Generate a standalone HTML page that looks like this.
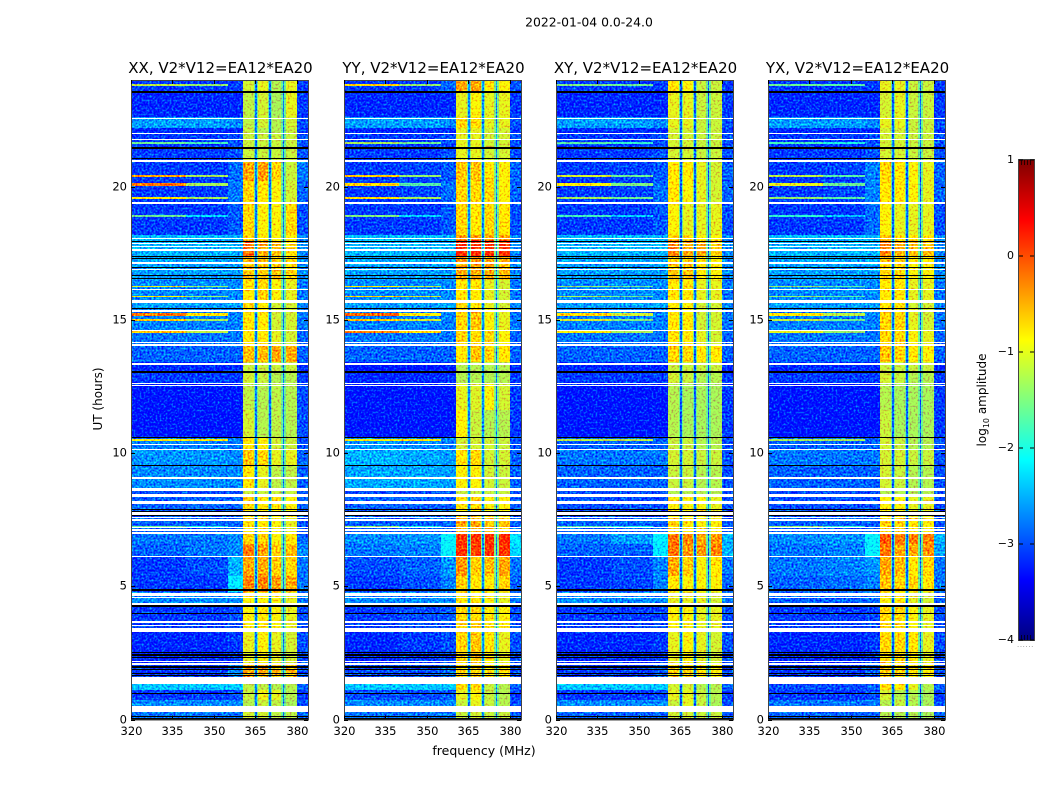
<!DOCTYPE html>
<html lang="en">
<head>
<meta charset="utf-8">
<title>2022-01-04 0.0-24.0</title>
<style>
html,body{margin:0;padding:0;background:#fff;width:1050px;height:800px;overflow:hidden}
svg{display:block;font-family:"DejaVu Sans","Liberation Sans",sans-serif}
</style>
</head>
<body>
<svg id="figure" xmlns="http://www.w3.org/2000/svg" width="1050" height="800" viewBox="0 0 1050 800">
  <defs>
    <!-- Decorative texture only: imitates pixel speckle; it is not data. -->
    <filter id="speckle" x="0" y="0" width="1" height="1" color-interpolation-filters="sRGB">
      <feTurbulence type="fractalNoise" baseFrequency="0.5" numOctaves="2" seed="4" result="noise"/>
      <feColorMatrix in="noise" type="matrix" values="0 0 0 0 0.5  0 1 0 0 0  0 0 0 0 0.5  0 0 0 0 1" result="greenNoise"/>
      <feComposite in="SourceGraphic" in2="greenNoise" operator="arithmetic" k1="0" k2="1" k3="1.6" k4="-0.8"/>
    </filter>
  </defs>
  <text x="589" y="26.5" font-size="12.4" text-anchor="middle" fill="#000">2022-01-04 0.0-24.0</text>
  <text transform="translate(102,399) rotate(-90)" font-size="12" text-anchor="middle" fill="#000">UT (hours)</text>
  <text x="484" y="755" font-size="12.5" text-anchor="middle" fill="#000">frequency (MHz)</text>
  <g id="panels"></g>
  <g id="colorbar"></g>
  <text transform="translate(986,400) rotate(-90)" font-size="12" text-anchor="middle" fill="#000">log<tspan font-size="8" dy="3">10</tspan><tspan dy="-3"> amplitude</tspan></text>
  <text x="1017" y="647" font-size="7" fill="#888" letter-spacing="0.6">......</text>
</svg>
<script>
// ---- chart data (hours, MHz, log10 amplitude) ----
const panelTitles = ["XX, V2*V12=EA12*EA20", "YY, V2*V12=EA12*EA20", "XY, V2*V12=EA12*EA20", "YX, V2*V12=EA12*EA20"];
const freqTicks = [320, 335, 350, 365, 380];
const timeTicks = [0, 5, 10, 15, 20];
const colorTicks = [1, 0, -1, -2, -3, -4];
const colorTickLabels = ["1", "0", "\u22121", "\u22122", "\u22123", "\u22124"];
// columns of the level tables: low, mid, edge, band1, band2, band3, band4, high
const columnEdges = [[320,340],[340,355],[355,360.5],[360.5,364.4],[366,369.4],[371,374.4],[376,380],[380,384]];
const notchHaloEdges = [[364.4,366],[369.4,371],[374.4,376]];
const notchCoreEdges = [[364.9,365.5],[369.9,370.5],[374.9,375.5]];
const notchHaloLevels = [-1.6, -1.5, -1.6, -1.6];
const notchCoreLevels = [-2.8, -2.7, -2.9, -2.9];
const segmentStarts = [0,0.49,0.75,1.1,1.58,2.06,3.3,4.3,4.8,5.4,6.1,6.6,7,7.6,8.36,8.68,9.5,10.1,10.6,11.6,12.6,13.07,13.4,14.1,14.6,15.4,15.7,16.5,17.1,17.4,18,18.2,19.4,20.2,21,22,22.2,22.6,23.6];
const segmentEnd = 24;
const levelsXX = [
[-2.8,-2.8,-2.8,-1.1,-1.1,-1.2,-1.2,-2.9],[-2.7,-2.7,-2.7,-1.25,-1.15,-1.2,-1.3,-3.0],[-3.1,-3.1,-3.0,-1.15,-0.95,-1.0,-1.25,-3.1],[-2.4,-2.4,-2.4,-1.2,-1.2,-1.25,-1.25,-2.9],
[-3.1,-3.1,-2.7,-0.45,-0.45,-0.55,-0.55,-3.0],[-3.2,-3.2,-3.1,-1.0,-0.9,-1.0,-1.1,-3.0],[-3.1,-3.1,-3.0,-0.9,-0.8,-0.9,-1.0,-3.0],[-2.7,-2.7,-2.7,-0.9,-0.9,-0.9,-1.0,-2.8],
[-3.1,-3.1,-2.2,-0.25,-0.25,-0.4,-0.45,-2.8],[-3.1,-3.0,-2.5,-0.45,-0.45,-0.65,-0.7,-2.8],[-2.9,-2.8,-2.7,-0.25,-0.4,-0.65,-0.55,-2.7],[-2.8,-2.8,-2.7,-0.7,-0.7,-0.9,-0.8,-2.9],
[-2.9,-2.9,-2.9,-0.8,-0.8,-0.9,-1.0,-3.0],[-2.9,-2.9,-2.9,-0.7,-0.8,-0.8,-0.9,-2.9],[-3.0,-3.0,-3.0,-1.15,-1.15,-1.15,-1.15,-3.0],[-2.7,-2.7,-2.7,-0.8,-1.0,-1.2,-1.2,-2.9],
[-2.65,-2.65,-2.7,-0.6,-0.7,-1.0,-1.0,-2.9],[-2.75,-2.75,-2.8,-0.8,-0.9,-1.1,-1.15,-3.0],[-3.3,-3.3,-3.3,-1.1,-1.25,-1.2,-1.25,-3.0],[-3.3,-3.3,-3.3,-1.2,-1.25,-1.2,-1.25,-3.0],
[-3.1,-3.1,-3.1,-1.1,-1.15,-1.25,-1.25,-3.1],[-3.2,-3.2,-3.2,-1.15,-1.15,-1.15,-1.15,-3.2],[-2.9,-2.9,-2.9,-0.55,-0.55,-0.45,-0.45,-2.9],[-2.8,-2.8,-2.8,-0.8,-0.8,-1.0,-1.1,-2.9],
[-2.75,-2.75,-2.75,-0.8,-0.8,-1.1,-1.1,-2.8],[-2.6,-2.6,-2.6,-0.7,-0.8,-1.1,-1.1,-2.7],[-2.7,-2.7,-2.7,-0.8,-0.7,-0.9,-1.0,-2.8],[-2.6,-2.6,-2.6,-0.6,-0.6,-0.6,-0.7,-2.7],
[-2.55,-2.55,-2.55,-0.5,-0.6,-0.7,-0.7,-2.7],[-2.5,-2.5,-2.5,-0.15,-0.45,-0.55,-0.8,-2.7],[-2.45,-2.45,-2.5,-0.7,-0.8,-0.9,-0.9,-2.7],[-3.1,-3.1,-2.95,-0.7,-0.9,-0.9,-0.7,-3.0],
[-3.1,-3.1,-2.8,-0.7,-0.8,-0.9,-1.1,-2.9],[-3.1,-3.1,-2.85,-0.45,-0.4,-0.7,-1.15,-2.8],[-3.1,-3.1,-3.0,-1.15,-1.15,-1.15,-1.15,-3.0],[-3.2,-3.2,-3.2,-1.15,-1.25,-1.25,-1.15,-3.1],
[-2.6,-2.6,-2.7,-1.2,-1.1,-1.25,-1.1,-3.0],[-3.2,-3.2,-3.2,-1.2,-1.1,-1.3,-1.0,-3.1],[-3.1,-3.1,-3.1,-1.1,-1.0,-1.25,-1.0,-3.1]];
const levelsYY = [
[-2.8,-2.8,-2.8,-1.15,-1.1,-1.15,-1.15,-2.9],[-2.7,-2.7,-2.7,-1.15,-1.0,-1.15,-1.25,-3.0],[-3.0,-3.0,-2.95,-1.0,-0.9,-1.15,-1.25,-3.1],[-2.4,-2.4,-2.4,-0.7,-0.7,-1.15,-1.25,-2.9],
[-3.0,-3.0,-2.8,-0.7,-0.7,-0.8,-0.8,-3.0],[-3.2,-3.1,-3.0,-0.7,-0.6,-0.8,-1.0,-3.0],[-3.1,-3.0,-2.95,-0.7,-0.7,-0.8,-0.9,-3.0],[-2.7,-2.7,-2.7,-0.8,-0.8,-0.9,-1.0,-2.8],
[-3.1,-3.0,-2.75,-0.65,-0.8,-0.8,-0.7,-2.9],[-3.0,-2.9,-2.65,-0.35,-0.65,-0.55,-0.45,-2.8],[-2.8,-2.75,-2.1,0.15,0.05,0.15,0.15,-2.3],[-2.7,-2.65,-2.1,0.15,0.15,0.2,0.2,-2.2],
[-2.9,-2.9,-2.9,-0.45,-0.45,-0.6,-0.6,-2.9],[-2.9,-2.9,-2.9,-0.8,-0.7,-0.9,-0.9,-2.9],[-3.0,-3.0,-3.0,-1.15,-1.15,-1.15,-1.15,-3.0],[-2.55,-2.55,-2.6,-0.9,-0.9,-1.1,-1.15,-2.9],
[-2.5,-2.55,-2.6,-0.8,-0.7,-1.1,-1.1,-2.9],[-2.65,-2.7,-2.75,-1.1,-1.1,-1.1,-1.15,-3.0],[-3.3,-3.3,-3.3,-0.9,-1.15,-1.25,-1.25,-3.1],[-3.3,-3.3,-3.3,-1.0,-1.05,-0.9,-1.1,-3.1],
[-3.2,-3.2,-3.15,-1.25,-1.25,-1.25,-1.25,-3.1],[-3.3,-3.3,-3.25,-1.25,-1.25,-1.25,-1.25,-3.2],[-2.9,-2.9,-2.9,-0.8,-0.6,-0.7,-0.8,-2.9],[-2.8,-2.8,-2.8,-0.7,-0.7,-0.7,-0.9,-2.9],
[-2.75,-2.75,-2.75,-0.7,-0.6,-0.9,-1.0,-2.8],[-2.6,-2.6,-2.6,-0.7,-0.8,-1.0,-1.1,-2.7],[-2.7,-2.7,-2.7,-0.8,-0.8,-1.0,-1.1,-2.8],[-2.6,-2.6,-2.6,-0.45,-0.45,-0.45,-0.55,-2.7],
[-2.55,-2.55,-2.55,-0.35,-0.35,-0.45,-0.45,-2.7],[-2.5,-2.5,-2.5,0.2,0.2,0.15,0.15,-2.7],[-2.45,-2.45,-2.5,-0.35,-0.35,-0.45,-0.45,-2.7],[-3.1,-3.1,-2.95,-0.7,-0.8,-0.7,-0.8,-3.0],
[-3.1,-3.05,-2.85,-0.7,-0.7,-0.7,-0.9,-2.9],[-3.1,-3.05,-2.95,-0.6,-0.6,-0.8,-0.9,-2.9],[-3.1,-3.1,-3.0,-1.0,-1.0,-1.1,-1.1,-3.0],[-3.2,-3.2,-3.2,-1.0,-1.0,-1.1,-1.1,-3.1],
[-2.6,-2.6,-2.7,-0.7,-0.7,-1.0,-1.0,-3.0],[-3.2,-3.2,-3.2,-1.0,-0.9,-1.0,-1.0,-3.1],[-3.1,-3.1,-2.9,-0.45,-0.45,-0.8,-0.9,-3.0]];
const levelsXY = [
[-2.9,-2.9,-2.9,-1.1,-1.1,-1.15,-1.15,-2.9],[-2.7,-2.7,-2.7,-1.15,-1.0,-1.15,-1.3,-3.0],[-3.1,-3.1,-3.0,-1.0,-1.0,-1.15,-1.25,-3.1],[-2.4,-2.4,-2.4,-1.1,-1.1,-1.25,-1.25,-2.9],
[-3.1,-3.1,-2.9,-0.7,-0.7,-0.8,-0.9,-3.0],[-3.2,-3.2,-3.1,-1.0,-0.9,-1.0,-1.1,-3.0],[-3.1,-3.1,-3.05,-0.9,-0.9,-1.0,-1.0,-3.0],[-2.7,-2.7,-2.7,-1.0,-1.0,-1.0,-1.1,-2.8],
[-3.1,-3.05,-2.75,-0.8,-0.9,-0.9,-0.9,-2.9],[-3.1,-3.0,-2.75,-0.45,-0.65,-0.9,-0.8,-2.8],[-2.9,-2.9,-2.2,-0.2,-0.35,-0.35,-0.25,-2.5],[-2.8,-2.6,-2.15,-0.2,-0.3,-0.45,-0.35,-2.5],
[-2.9,-2.9,-2.9,-0.7,-0.8,-0.9,-0.9,-3.0],[-3.0,-3.0,-3.0,-0.9,-0.9,-0.9,-1.0,-3.0],[-3.0,-3.0,-3.0,-1.25,-1.25,-1.25,-1.25,-3.0],[-2.9,-2.9,-2.9,-1.15,-1.15,-1.25,-1.25,-3.0],
[-2.8,-2.8,-2.8,-1.1,-1.1,-1.15,-1.15,-3.0],[-2.9,-2.9,-2.9,-1.15,-1.15,-1.25,-1.25,-3.0],[-3.3,-3.3,-3.3,-1.25,-1.3,-1.3,-1.3,-3.1],[-3.3,-3.3,-3.3,-1.25,-1.3,-1.3,-1.3,-3.1],
[-3.1,-3.1,-3.1,-1.1,-1.15,-1.25,-1.25,-3.1],[-3.2,-3.2,-3.2,-1.15,-1.15,-1.15,-1.15,-3.2],[-2.9,-2.9,-2.9,-0.7,-0.7,-0.8,-0.8,-2.9],[-2.8,-2.8,-2.8,-0.8,-0.8,-1.0,-1.1,-2.9],
[-2.75,-2.75,-2.75,-0.8,-0.8,-1.1,-1.1,-2.8],[-2.6,-2.6,-2.6,-0.8,-0.9,-1.1,-1.1,-2.7],[-2.7,-2.7,-2.7,-0.8,-0.8,-1.0,-1.0,-2.8],[-2.6,-2.6,-2.6,-0.6,-0.6,-0.8,-0.9,-2.7],
[-2.55,-2.55,-2.55,-0.7,-0.7,-0.8,-0.9,-2.7],[-2.5,-2.5,-2.5,-0.25,-0.45,-0.45,-0.65,-2.7],[-2.45,-2.45,-2.5,-0.7,-0.7,-0.9,-0.9,-2.7],[-3.1,-3.1,-2.95,-0.9,-1.0,-1.0,-1.0,-3.0],
[-3.1,-3.05,-2.85,-0.8,-0.9,-1.0,-1.1,-2.9],[-3.1,-3.05,-2.95,-0.8,-0.8,-1.0,-1.1,-2.9],[-3.1,-3.1,-3.0,-1.1,-1.1,-1.15,-1.15,-3.0],[-3.2,-3.2,-3.2,-1.1,-1.1,-1.15,-1.15,-3.1],
[-2.6,-2.6,-2.7,-1.0,-1.0,-1.15,-1.15,-3.0],[-3.2,-3.2,-3.2,-1.0,-1.0,-1.15,-1.15,-3.1],[-3.1,-3.1,-3.1,-0.8,-0.9,-1.15,-1.15,-3.1]];
const levelsYX = [
[-2.9,-2.9,-2.9,-1.25,-1.25,-1.25,-1.3,-2.9],[-2.8,-2.8,-2.8,-1.25,-1.15,-1.25,-1.3,-3.0],[-3.1,-3.1,-3.0,-1.1,-1.25,-1.25,-1.3,-3.1],[-3.0,-3.0,-2.9,-0.7,-0.8,-1.0,-1.25,-2.9],
[-3.1,-3.1,-2.9,-0.7,-0.7,-0.8,-0.9,-3.0],[-3.2,-3.2,-3.1,-0.7,-0.7,-0.8,-1.0,-3.0],[-3.1,-3.1,-3.05,-0.7,-0.7,-0.9,-1.0,-3.0],[-2.9,-2.9,-2.85,-0.9,-0.8,-1.0,-1.1,-2.9],
[-2.9,-2.85,-2.75,-0.6,-0.7,-0.7,-0.8,-2.8],[-2.8,-2.75,-2.65,-0.45,-0.55,-0.8,-0.7,-2.8],[-2.8,-2.75,-2.1,-0.2,-0.45,-0.45,-0.35,-2.6],[-2.7,-2.65,-2.1,-0.05,-0.2,-0.25,-0.25,-2.5],
[-2.9,-2.9,-2.9,-0.7,-0.7,-0.8,-0.9,-3.0],[-3.0,-3.0,-3.0,-0.9,-0.9,-1.0,-1.0,-3.0],[-3.0,-3.0,-3.0,-1.25,-1.25,-1.25,-1.25,-3.0],[-2.9,-2.9,-2.9,-1.1,-1.15,-1.25,-1.25,-3.0],
[-2.8,-2.8,-2.8,-1.1,-1.1,-1.15,-1.15,-3.0],[-2.9,-2.9,-2.9,-1.1,-1.15,-1.25,-1.25,-3.0],[-3.3,-3.3,-3.3,-1.15,-1.3,-1.3,-1.3,-3.1],[-3.3,-3.3,-3.3,-1.25,-1.3,-1.3,-1.3,-3.1],
[-3.1,-3.1,-3.1,-1.1,-1.15,-1.25,-1.25,-3.1],[-3.2,-3.2,-3.2,-1.15,-1.15,-1.15,-1.15,-3.2],[-2.9,-2.9,-2.9,-0.6,-0.7,-0.8,-0.9,-2.9],[-2.8,-2.8,-2.8,-0.7,-0.7,-0.9,-1.0,-2.9],
[-2.75,-2.75,-2.75,-0.7,-0.7,-1.0,-1.1,-2.8],[-2.6,-2.6,-2.6,-0.8,-0.8,-1.1,-1.1,-2.7],[-2.7,-2.7,-2.7,-0.8,-0.8,-1.0,-1.0,-2.8],[-2.6,-2.6,-2.6,-0.7,-0.7,-0.9,-0.9,-2.7],
[-2.55,-2.55,-2.55,-0.6,-0.7,-0.8,-0.8,-2.7],[-2.5,-2.5,-2.5,-0.25,-0.45,-0.55,-0.55,-2.7],[-2.45,-2.45,-2.5,-0.6,-0.8,-0.8,-0.8,-2.7],[-3.1,-3.1,-2.85,-0.9,-1.0,-1.0,-1.0,-3.0],
[-3.1,-3.05,-2.75,-0.8,-0.8,-0.9,-1.0,-2.9],[-3.1,-3.05,-2.75,-0.7,-0.8,-0.9,-1.0,-2.9],[-3.1,-3.1,-3.0,-1.1,-1.1,-1.15,-1.15,-3.0],[-3.2,-3.2,-3.2,-1.1,-1.1,-1.15,-1.15,-3.1],
[-2.6,-2.6,-2.7,-1.0,-1.0,-1.15,-1.15,-3.0],[-3.2,-3.2,-3.2,-1.1,-1.0,-1.15,-1.15,-3.1],[-3.1,-3.1,-3.1,-1.0,-1.0,-1.15,-1.15,-3.1]];
const panelLevels = [levelsXX, levelsYY, levelsXY, levelsYX];
// narrow interference rows in the low band: start hour, end hour
const rfiRows = [[23.78,23.84],[21.6,21.66],[20.36,20.43],[20.03,20.14],[19.55,19.6],[18.87,18.92],[16.22,16.28],[15.84,15.9],[15.14,15.25],[14.97,15.03],[14.52,14.57],[10.44,10.52],[7.24,7.28]];
const rfiLevelsXX = [[-1.2,-1.4],[-1.6,-1.8],[-0.4,-1.3],[-0.2,-1.3],[-0.8,-1.3],[-1.6,-2.3],[-1.0,-1.4],[-0.9,-1.4],[-0.2,-0.8],[-0.7,-1.3],[-0.6,-1.2],[-0.9,-0.8],[-1.6,-2.0]];
const rfiLevelsYY = [[-0.7,-1.4],[-1.3,-1.6],[-0.6,-1.4],[-0.7,-1.7],[-0.7,-1.3],[-1.5,-2.3],[-0.8,-1.2],[-0.7,-1.1],[-0.1,-0.9],[-0.6,-1.1],[-0.3,-0.7],[-0.9,-0.8],[-1.4,-2.0]];
const rfiLevelsXY = [[-1.5,-1.6],[-1.7,-1.9],[-1.1,-1.6],[-0.9,-1.5],[-1.3,-1.6],[-1.8,-2.4],[-1.4,-1.6],[-1.3,-1.6],[-0.7,-1.1],[-1.1,-1.5],[-0.9,-1.3],[-1.2,-1.2],[-1.7,-2.0]];
const rfiLevelsYX = [[-1.6,-1.7],[-1.8,-2.0],[-1.2,-1.7],[-1.0,-1.6],[-1.4,-1.7],[-1.9,-2.4],[-1.4,-1.7],[-1.4,-1.7],[-0.8,-1.2],[-1.2,-1.6],[-1.0,-1.4],[-1.3,-1.3],[-1.4,-1.9]];
const panelRfiLevels = [rfiLevelsXX, rfiLevelsYY, rfiLevelsXY, rfiLevelsYX];
// flagged (no data) intervals in hours, white
const flaggedRows = [[22.54,22.59],[21.96,22.01],[21.73,21.79],[20.94,21],[19.35,19.41],[18.02,18.08],[17.85,17.89],[17.74,17.78],[17.59,17.64],[17.1,17.16],[16.88,16.91],[16.11,16.16],[15.64,15.73],[15.3,15.36],[14.57,14.63],[14.12,14.18],[14.03,14.08],[13.31,13.37],[12.58,12.62],[12.51,12.54],[10.29,10.35],[10.11,10.16],[9.04,9.09],[8.59,8.68],[8.36,8.46],[8.08,8.19],[7.69,7.78],[7.58,7.61],[7.46,7.52],[7.2,7.24],[7.09,7.14],[6.98,7.03],[6.08,6.13],[4.63,4.76],[4.56,4.59],[4.31,4.39],[3.62,3.68],[3.53,3.56],[3.41,3.45],[3.28,3.38],[2.16,2.21],[2.06,2.12],[1.35,1.58],[0.28,0.49]];
// zero-amplitude intervals in hours, black
const zeroRows = [[23.51,23.59],[21.41,21.49],[21.06,21.09],[17.93,17.96],[17.36,17.4],[17.27,17.31],[16.95,16.99],[16.63,16.67],[16.52,16.56],[15.41,15.45],[12.99,13.07],[10.58,10.61],[9.51,9.54],[7.88,7.91],[7.8,7.84],[7.63,7.69],[4.82,4.89],[4.24,4.29],[3.98,4.01],[2.51,2.55],[2.4,2.44],[2.33,2.36],[1.95,1.99],[1.84,1.88],[1.73,1.76],[1.63,1.67],[0.96,0.99],[0.09,0.15],[0,0.06]];

// ---- layout ----
const NS = "http://www.w3.org/2000/svg";
const panelLefts = [131, 344, 556, 768];
const panelWidth = 177, plotTop = 80, plotBottom = 719.5;
const minFreq = 320, maxFreq = 384, maxHour = 24;
const cbLeft = 1019, cbWidth = 15, cbTop = 160, cbBottom = 640, minLevel = -4, maxLevel = 1;

function xScale(left, f) { return left + (f - minFreq) / (maxFreq - minFreq) * panelWidth; }
function yScale(h) { return plotBottom - h / maxHour * (plotBottom - plotTop); }
function levelScale(v) { return cbBottom - (v - minLevel) / (maxLevel - minLevel) * (cbBottom - cbTop); }
function clamp01(v) { return Math.max(0, Math.min(1, v)); }
function jet(level) {
  const t = clamp01((level - minLevel) / (maxLevel - minLevel));
  const ch = c => Math.round(255 * clamp01(1.5 - Math.abs(4 * t - c)));
  return "rgb(" + ch(3) + "," + ch(2) + "," + ch(1) + ")";
}
function make(tag, parent, attrs) {
  const el = document.createElementNS(NS, tag);
  for (const k in attrs) el.setAttribute(k, attrs[k]);
  parent.appendChild(el);
  return el;
}
function band(parent, left, f0, f1, h0, h1, fill) {
  const x0 = Math.round(xScale(left, f0)), x1 = Math.round(xScale(left, f1));
  const y0 = Math.round(yScale(h1)), y1 = Math.round(yScale(h0));
  return make("rect", parent, { x: x0, y: y0, width: Math.max(1, x1 - x0), height: Math.max(1, y1 - y0), fill: fill, "shape-rendering": "crispEdges" });
}

const panelsRoot = document.getElementById("panels");
panelTitles.forEach((title, p) => {
  const left = panelLefts[p];
  const g = make("g", panelsRoot, {});
  
  

  const cells = make("g", g, { filter: "url(#speckle)" });
  
  
  segmentStarts.forEach((start, s) => {
    const end = s + 1 < segmentStarts.length ? segmentStarts[s + 1] : segmentEnd;
    columnEdges.forEach((edge, c) => {
      const cell = band(cells, left, edge[0], edge[1], start, end, jet(panelLevels[p][s][c]));
      
      
    });
    notchHaloEdges.forEach(edge => {
      const halo = band(cells, left, edge[0], edge[1], start, end, jet(notchHaloLevels[p]));
      
      
    });
    notchCoreEdges.forEach(edge => {
      const core = band(cells, left, edge[0], edge[1], start, end, jet(notchCoreLevels[p]));
      
      
    });
  });
  rfiRows.forEach((row, r) => {
    const a = band(cells, left, columnEdges[0][0], columnEdges[0][1], row[0], row[1], jet(panelRfiLevels[p][r][0]));
    
    
    const b = band(cells, left, columnEdges[1][0], columnEdges[1][1], row[0], row[1], jet(panelRfiLevels[p][r][1]));
    
    
  });
  flaggedRows.forEach(row => {
    const el = band(g, left, minFreq, maxFreq, row[0], row[1], "#fff");
    
    
  });
  zeroRows.forEach(row => {
    const el = band(g, left, minFreq, maxFreq, row[0], row[1], "#000");
    
    
  });

  const frame = make("rect", g, { x: left + 0.5, y: plotTop + 0.5, width: panelWidth, height: plotBottom - plotTop, fill: "none", stroke: "#444", "stroke-width": 1 });
  
  

  freqTicks.forEach(f => {
    const x = Math.round(xScale(left, f)) + 0.5;
    [[plotBottom, plotBottom - 4], [plotTop, plotTop + 4]].forEach(pair => {
      const tick = make("line", g, { x1: x, x2: x, y1: pair[0], y2: pair[1], stroke: "#000", "stroke-width": 1 });
      
      
    });
    const label = make("text", g, { x: x, y: 735, "font-size": 11.5, "text-anchor": "middle", fill: "#000" });
    label.textContent = String(f);
    
    
  });
  timeTicks.forEach(h => {
    const y = Math.round(yScale(h)) + 0.5;
    [[left, left + 4], [left + panelWidth, left + panelWidth - 4]].forEach(pair => {
      const tick = make("line", g, { x1: pair[0], x2: pair[1], y1: y, y2: y, stroke: "#000", "stroke-width": 1 });
      
      
    });
    const label = make("text", g, { x: left - 4, y: y + 3, "font-size": 11.5, "text-anchor": "end", fill: "#000" });
    label.textContent = String(h);
    
    
  });

  const t = make("text", g, { x: left + panelWidth / 2 + 1, y: 73, "font-size": 15, "text-anchor": "middle", fill: "#000" });
  t.textContent = title;
  
  
});

// ---- colour bar ----
const cb = document.getElementById("colorbar");
for (let y = cbTop; y < cbBottom; y++) {
  const level = maxLevel - (y + 0.5 - cbTop) / (cbBottom - cbTop) * (maxLevel - minLevel);
  const strip = make("rect", cb, { x: cbLeft, y: y, width: cbWidth, height: 1, fill: jet(level), "shape-rendering": "crispEdges" });
  
  
}
for (let x = cbLeft + 2; x < cbLeft + cbWidth - 1; x += 3) {
  [[cbTop, cbTop + 5], [cbBottom, cbBottom - 5]].forEach(pair => {
    const minor = make("line", cb, { x1: x + 0.5, x2: x + 0.5, y1: pair[0], y2: pair[1], stroke: "#000", "stroke-width": 0.7 });
    
    
  });
}
const cbFrame = make("rect", cb, { x: cbLeft - 0.5, y: cbTop - 0.5, width: cbWidth + 1, height: cbBottom - cbTop + 1, fill: "none", stroke: "#444", "stroke-width": 1 });


colorTicks.forEach((v, i) => {
  const y = levelScale(v);
  [[cbLeft, cbLeft + 4], [cbLeft + cbWidth, cbLeft + cbWidth - 4]].forEach(pair => {
    const tick = make("line", cb, { x1: pair[0], x2: pair[1], y1: y, y2: y, stroke: "#000", "stroke-width": 1 });
    
    
  });
  const label = make("text", cb, { x: cbLeft - 5, y: y + 3, "font-size": 11, "text-anchor": "end", fill: "#000" });
  label.textContent = colorTickLabels[i];
  
  
});
</script>
</body>
</html>
